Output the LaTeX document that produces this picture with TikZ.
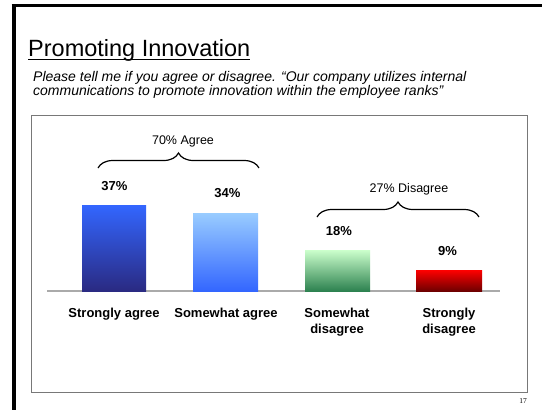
\documentclass[tikz,border=0pt]{standalone}
\usepackage{fontspec}
\setmainfont{Liberation Sans}
\newfontfamily\pagenofont{Liberation Serif}
\usetikzlibrary{decorations.pathreplacing}

\definecolor{frameblack}{RGB}{0,0,0}
\definecolor{boxgray}{RGB}{120,120,120}
\definecolor{axisgray}{RGB}{170,170,170}
\definecolor{agreetop}{RGB}{51,102,255}
\definecolor{agreebot}{RGB}{42,42,130}
\definecolor{somagtop}{RGB}{153,204,255}
\definecolor{somagbot}{RGB}{51,102,255}
\definecolor{somdistop}{RGB}{204,255,204}
\definecolor{somdisbot}{RGB}{45,130,80}
\definecolor{strdistop}{RGB}{255,0,0}
\definecolor{strdisbot}{RGB}{110,0,0}

\begin{document}
\begin{tikzpicture}[x=1pt,y=-1pt,
    pct/.style={font=\fontsize{13}{15}\selectfont\bfseries, inner sep=0pt},
    cat/.style={font=\fontsize{13}{16.3}\selectfont\bfseries, align=center, inner sep=0pt, anchor=north},
    grp/.style={font=\fontsize{12.5}{15}\selectfont, inner sep=0pt},
    bracket/.style={decorate, decoration={brace, amplitude=15pt}, line width=1.2pt}]
        \useasboundingbox (0,0) rectangle (542,410);
        \fill[white] (0,0) rectangle (542,410);

        % slide frame
        \draw[frameblack, line width=3pt] (11.7,5.8)--(542,5.8);
        \draw[frameblack, line width=4pt] (13.7,4.3)--(13.7,410);

        % heading
        \node[anchor=base west, inner sep=0pt, font=\fontsize{23.5}{28}\selectfont] (title) at (28,56) {Promoting Innovation};
        \draw[line width=1.3pt] ([yshift=-3.5pt]title.base west)--([yshift=-3.5pt]title.base east);
        \node[anchor=base west, inner sep=0pt, align=left, font=\fontsize{14}{13.3}\selectfont\itshape] (question) at (33,95)
          {Please tell me if you agree or disagree. “Our company utilizes internal\\communications to promote innovation within the employee ranks”};

        % chart box
        \draw[boxgray, line width=1pt] (31.5,115.5) rectangle (527,392);
        \draw[axisgray, line width=2pt] (47,291)--(500,291);

        % bars
        \shade[top color=agreetop, bottom color=agreebot] (82,205) rectangle (146,291);
        \shade[top color=somagtop, bottom color=somagbot] (193,213) rectangle (258,291);
        \shade[top color=somdistop, bottom color=somdisbot] (305,250) rectangle (370,291);
        \shade[top color=strdistop, bottom color=strdisbot] (416,270) rectangle (482,291);

        % values
        \node[pct] (v1) at (114.5,186) {37\%};
        \node[pct] (v2) at (227.5,193) {34\%};
        \node[pct] (v3) at (339,231) {18\%};
        \node[pct] (v4) at (447.5,251) {9\%};

        % categories
        \node[cat] (c1) at (114,308) {Strongly agree};
        \node[cat] (c2) at (226,308) {Somewhat agree};
        \node[cat] (c3) at (337,308) {Somewhat\\disagree};
        \node[cat] (c4) at (449,308) {Strongly\\disagree};

        % groups
        \coordinate (ag1) at (98,168);
        \coordinate (ag2) at (259,168);
        \coordinate (dg1) at (317,217);
        \coordinate (dg2) at (479,217);
        \draw[bracket] (ag1)--(ag2);
        \draw[bracket] (dg1)--(dg2);
        \node[grp] (agree) at (183,141) {70\% Agree};
        \node[grp] (disagree) at (409,189) {27\% Disagree};

        \node[inner sep=0pt, font=\pagenofont\fontsize{7.5}{9}\selectfont] (pageno) at (523,401) {17};
      \end{tikzpicture}
\end{document}
